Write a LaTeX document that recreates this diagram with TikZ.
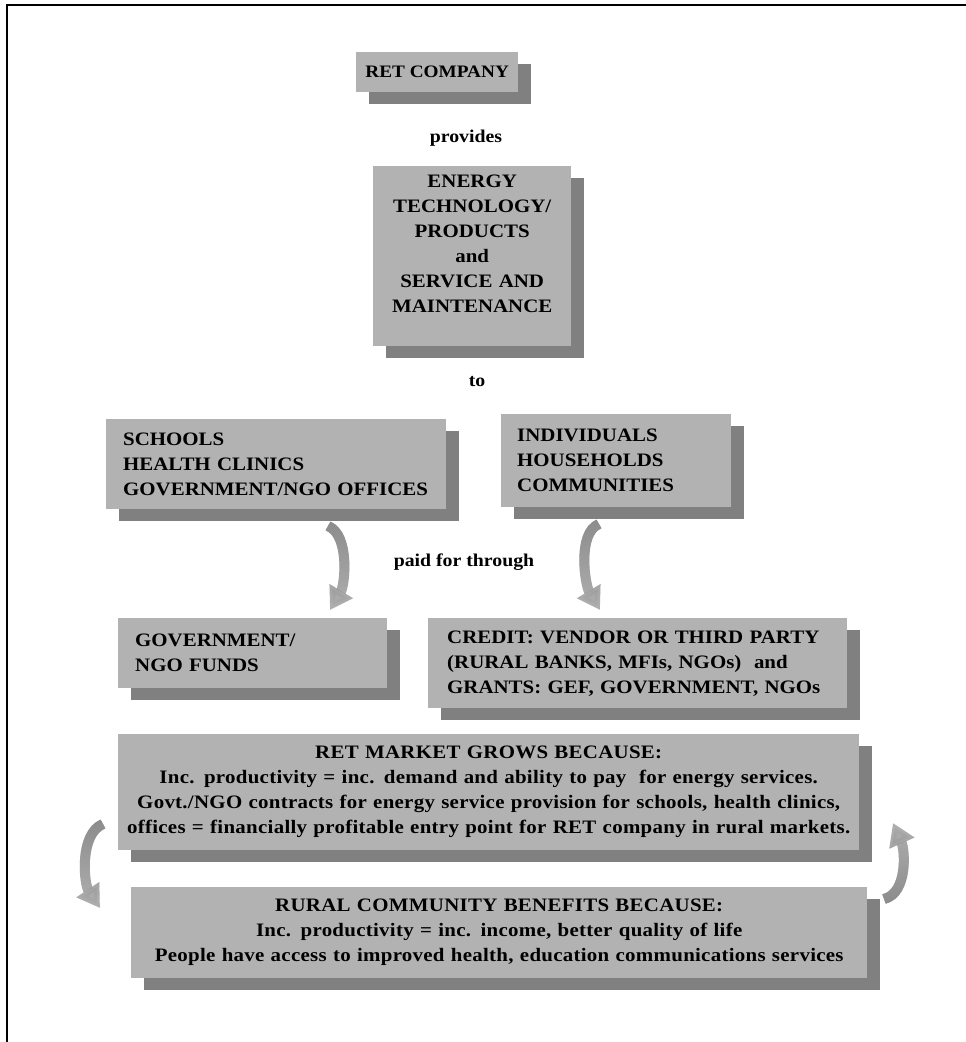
\documentclass[tikz,border=0pt]{standalone}
\usepackage{fontspec}
\setmainfont{Liberation Serif}[FakeStretch=1.1]
\usetikzlibrary{shadows,arrows.meta,fadings}

\begin{document}
\begin{tikzpicture}[x=1pt,y=-1pt,
    box/.style={anchor=north west,fill=black!30,inner xsep=17pt,inner ysep=0pt,
      font=\fontsize{19}{25}\selectfont\bfseries,
      drop shadow={shadow xshift=13pt,shadow yshift=-12pt,fill=black!50,opacity=1}},
    wide/.style={font=\fontsize{19}{25}\selectfont\bfseries\addfontfeature{LetterSpace=1.5}},
    word/.style={font=\fontsize{18}{25}\selectfont\bfseries},
    curved/.style={draw=black!30,line width=10pt,-{Triangle[width=26pt,length=22pt]},
      postaction={draw=black!45,path fading=#1}}]
    \useasboundingbox (0,0) rectangle (966,1042);
    \draw[line width=1.5pt] (7,1042) -- (7,5) -- (966,5);

    % top of the chain
    \node[box,minimum width=162pt,minimum height=40pt,inner xsep=3pt,
        font=\fontsize{17.5}{20}\selectfont\bfseries] (company) at (356,52) {RET COMPANY};
    \node[word] (provides) at (466,138) {provides};
    \node[box,text width=164pt,minimum height=180pt,align=center] (energy) at (373,166)
        {ENERGY\\TECHNOLOGY/\\PRODUCTS\\and\\SERVICE AND\\MAINTENANCE\\\mbox{}};
    \node[word] (to) at (477,382) {to};

    % users
    \node[box,text width=306pt,minimum height=90pt,align=left] (schools) at (106,419)
        {SCHOOLS\\HEALTH CLINICS\\GOVERNMENT/NGO OFFICES};
    \node[box,text width=198pt,minimum height=93pt,align=left,inner xsep=16pt] (people) at (501,414)
        {INDIVIDUALS\\HOUSEHOLDS\\COMMUNITIES};
    \node[word] (paid) at (464,562) {paid for through};

    % money
    \node[box,text width=235pt,minimum height=70pt,align=left] (funds) at (118,618)
        {GOVERNMENT/\\NGO FUNDS};
    \node[box,text width=381pt,minimum height=90pt,align=left,inner xsep=19pt] (credit) at (428,618)
        {\mbox{CREDIT: VENDOR OR THIRD PARTY}\\\mbox{(RURAL BANKS, MFIs, NGOs)\ \ and}\\\mbox{GRANTS: GEF, GOVERNMENT, NGOs}};

    % results
    \node[box,wide,text width=735pt,minimum height=116pt,align=center,inner xsep=3pt] (market) at (118,734)
        {RET MARKET GROWS BECAUSE:\\
         Inc. productivity = inc. demand and ability to pay\ \ for energy services.\\
         Govt./NGO contracts for energy service provision for schools, health clinics,\\
         offices = financially profitable entry point for RET company in rural markets.};
    \node[box,wide,text width=716pt,minimum height=91pt,align=center,inner xsep=10pt] (rural) at (131,887)
        {RURAL COMMUNITY BENEFITS BECAUSE:\\
         Inc. productivity = inc. income, better quality of life\\
         People have access to improved health, education communications services};

    % curved arrows
    \coordinate (s1) at (328,526); \coordinate (e1) at (330,610);
    \coordinate (s2) at (599,524); \coordinate (e2) at (600,610);
    \coordinate (s3) at (103,824); \coordinate (e3) at (100,908);
    \coordinate (s4) at (884,899); \coordinate (e4) at (893,823);
    \draw[curved=south] (s1) .. controls +(22,9) and +(15,-25) .. (e1);
    \draw[curved=south] (s2) .. controls +(-22,9) and +(-15,-25) .. (e2);
    \draw[curved=south] (s3) .. controls +(-24,10) and +(-16,-24) .. (e3);
    \draw[curved=north] (s4) .. controls +(24,-6) and +(12,27) .. (e4);
\end{tikzpicture}
\end{document}
